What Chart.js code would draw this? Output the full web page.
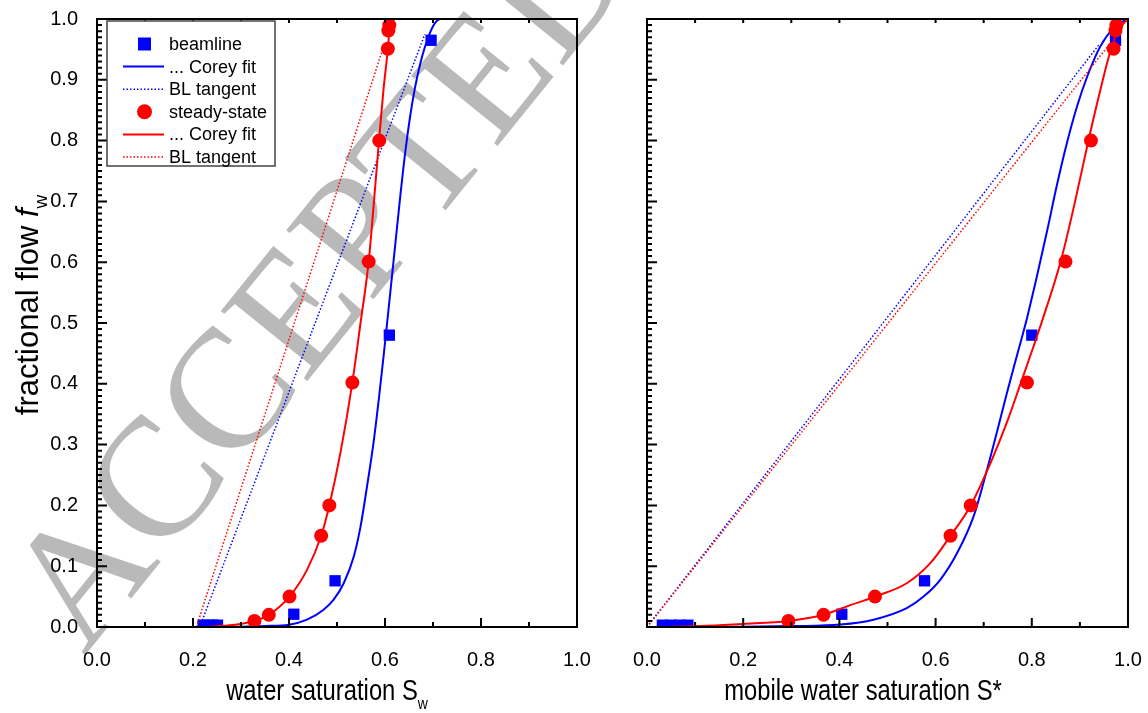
<!DOCTYPE html>
<html>
<head>
<meta charset="utf-8">
<script src="https://cdn.jsdelivr.net/npm/chart.js@4.4.1/dist/chart.umd.min.js"></script>
<style>
  html, body { margin: 0; padding: 0; background: #fff; }
  #wrap { position: relative; width: 1148px; height: 713px; overflow: hidden; }
  #wm {
    position: absolute; left: 0; top: 0;
    font-family: "Liberation Serif", serif; font-size: 170px; line-height: 1;
    color: #b9b9b9; white-space: nowrap;
    transform-origin: 0 0; transform: translate(-26px, 567px) rotate(-51deg);
  }
  canvas { position: absolute; top: 0; }
</style>
</head>
<body>
<div id="wrap">
  <div id="wm">ACCEPTED MANUSCRIPT</div>
  <canvas id="left" width="600" height="713" style="left:0"></canvas>
  <canvas id="right" width="548" height="713" style="left:600px"></canvas>
</div>
<script>
// ===== data: left panel, water saturation Sw =====
const beamSw = [0.221, 0.231, 0.241, 0.251, 0.410, 0.496, 0.609, 0.696];
const beamFw = [0.003, 0.003, 0.003, 0.003, 0.021, 0.076, 0.480, 0.965];
const steadySw = [0.328, 0.358, 0.401, 0.467, 0.484, 0.532, 0.566, 0.588, 0.606, 0.607, 0.609];
const steadyFw = [0.010, 0.020, 0.050, 0.150, 0.200, 0.402, 0.601, 0.800, 0.951, 0.981, 0.990];

// Corey fits
const beamFitSw = [0.22, 0.30, 0.35, 0.40, 0.4375, 0.472, 0.493, 0.514, 0.535, 0.549, 0.5625, 0.576, 0.587, 0.597, 0.604, 0.611, 0.6215, 0.632, 0.642, 0.652, 0.662, 0.672, 0.682, 0.691, 0.700, 0.708, 0.714];
const beamFitFw = [0.0, 0.0006, 0.0018, 0.0038, 0.012, 0.0285, 0.045, 0.072, 0.116, 0.165, 0.231, 0.3025, 0.374, 0.445, 0.497, 0.550, 0.630, 0.710, 0.780, 0.838, 0.885, 0.922, 0.951, 0.972, 0.988, 0.997, 1.0];
const steadyFitSw = [0.23, 0.264, 0.30, 0.328, 0.358, 0.401, 0.4375, 0.467, 0.484, 0.508, 0.532, 0.549, 0.566, 0.577, 0.5875, 0.597, 0.606, 0.610, 0.613];
const steadyFitFw = [0.0, 0.002, 0.005, 0.010, 0.020, 0.050, 0.094, 0.150, 0.200, 0.290, 0.402, 0.500, 0.601, 0.700, 0.800, 0.885, 0.951, 0.990, 1.0];

// Buckley-Leverett tangents
const beamTanSw = [0.214, 0.683];
const beamTanFw = [0.0, 0.975];
const steadyTanSw = [0.207, 0.597];
const steadyTanFw = [0.0, 0.955];

// ===== data: right panel, mobile water saturation S* =====
const beamS = [0.032, 0.050, 0.068, 0.085, 0.405, 0.577, 0.800, 0.974];
const steadyS = [0.294, 0.367, 0.474, 0.631, 0.673, 0.790, 0.870, 0.923, 0.970, 0.974, 0.976];

const beamFitS = [0.03, 0.20, 0.30, 0.402, 0.471, 0.540, 0.575, 0.610, 0.645, 0.679, 0.707, 0.728, 0.748, 0.769, 0.790, 0.811, 0.832, 0.852, 0.873, 0.894, 0.915, 0.9425, 0.970, 0.998];
const beamFitFwS = [0.0, 0.0004, 0.0015, 0.004, 0.012, 0.031, 0.050, 0.078, 0.122, 0.182, 0.259, 0.322, 0.384, 0.446, 0.508, 0.578, 0.652, 0.726, 0.796, 0.856, 0.905, 0.955, 0.985, 1.0];
const steadyFitS = [0.03, 0.125, 0.20, 0.294, 0.367, 0.416, 0.474, 0.540, 0.589, 0.631, 0.673, 0.717, 0.748, 0.777, 0.820, 0.860, 0.890, 0.918, 0.943, 0.965, 0.983, 1.0];
const steadyFitFwS = [0.0, 0.002, 0.005, 0.010, 0.020, 0.034, 0.050, 0.072, 0.105, 0.150, 0.200, 0.275, 0.336, 0.401, 0.500, 0.601, 0.700, 0.801, 0.885, 0.951, 0.985, 1.0];

const beamTanS = [0.0, 0.940];
const beamTanFwS = [0.0, 0.958];
const steadyTanS = [0.0, 0.962];
const steadyTanFwS = [0.0, 0.959];

// tick labels
const xTicks = [0, 0.2, 0.4, 0.6, 0.8, 1.0];
const yTicks = [0, 0.1, 0.2, 0.3, 0.4, 0.5, 0.6, 0.7, 0.8, 0.9, 1.0];
const legendLabels = ["beamline", "... Corey fit", "BL tangent", "steady-state", "... Corey fit", "BL tangent"];

const BLUE = "#0000ff";
const RED = "#ff0000";
const SANS = '"Liberation Sans", Arial, sans-serif';

function pts(xs, ys) {
  return xs.map((x, i) => ({ x: x, y: ys[i] }));
}

function buildDatasets(s) {
  return [
    { label: legendLabels[0], data: pts(s.bx, s.by), showLine: false, pointStyle: "rect",
      pointRadius: 8, pointBackgroundColor: BLUE, pointBorderWidth: 0, order: 3, clip: 0 },
    { label: legendLabels[1], data: pts(s.bfx, s.bfy), showLine: true, borderColor: BLUE,
      borderWidth: 2, pointRadius: 0, cubicInterpolationMode: "monotone", order: 4 },
    { label: legendLabels[2], data: pts(s.btx, s.bty), showLine: true, borderColor: BLUE,
      borderWidth: 1.5, borderDash: [1.5, 2], pointRadius: 0, order: 5 },
    { label: legendLabels[3], data: pts(s.sx, s.sy), showLine: false, pointStyle: "circle",
      pointRadius: 7, pointBackgroundColor: RED, pointBorderWidth: 0, order: 0, clip: 0 },
    { label: legendLabels[4], data: pts(s.sfx, s.sfy), showLine: true, borderColor: RED,
      borderWidth: 2, pointRadius: 0, cubicInterpolationMode: "monotone", order: 1 },
    { label: legendLabels[5], data: pts(s.stx, s.sty), showLine: true, borderColor: RED,
      borderWidth: 1.5, borderDash: [1.5, 2], pointRadius: 0, order: 2 },
  ];
}

// frame + inward ticks (major/minor) on every panel
const frameTicks = {
  id: "frameTicks",
  afterDatasetsDraw(chart) {
    const { ctx, chartArea: a } = chart;
    const x = chart.scales.x, y = chart.scales.y;
    ctx.save();
    ctx.strokeStyle = "#000";
    ctx.lineWidth = 2;
    ctx.beginPath();
    for (let i = 0; i <= 100; i++) {
      const py = y.getPixelForValue(i / 100);
      const len = i % 10 === 0 ? 10 : 5;
      ctx.moveTo(a.left, py);
      ctx.lineTo(a.left + len, py);
    }
    for (let i = 0; i <= 10; i++) {
      const px = x.getPixelForValue(i / 10);
      const len = i % 2 === 0 ? 9 : 5;
      ctx.moveTo(px, a.bottom);
      ctx.lineTo(px, a.bottom - len);
      ctx.moveTo(px, a.top);
      ctx.lineTo(px, a.top + 4);
    }
    ctx.stroke();
    ctx.strokeRect(a.left, a.top, a.right - a.left, a.bottom - a.top);
    ctx.restore();
  },
};

// text made of pieces (italic f, subscript w); sx squeezes the glyphs sideways
function drawPieces(ctx, pieces, size, cx, cy, rot, sx) {
  ctx.save();
  ctx.translate(cx, cy);
  ctx.rotate(rot || 0);
  ctx.scale(sx || 1, 1);
  ctx.fillStyle = "#000";
  ctx.textBaseline = "alphabetic";
  const fontOf = (p) => (p.italic ? "italic " : "") + Math.round(p.sub ? size * 0.6 : size) + "px " + SANS;
  let total = 0;
  pieces.forEach((p) => { ctx.font = fontOf(p); total += ctx.measureText(p.t).width; });
  let xx = -total / 2;
  pieces.forEach((p) => {
    ctx.font = fontOf(p);
    ctx.fillText(p.t, xx, p.sub ? size * 0.3 : 0);
    xx += ctx.measureText(p.t).width;
  });
  ctx.restore();
}

const axisTitles = {
  id: "axisTitles",
  afterDraw(chart, args, opts) {
    const ctx = chart.ctx;
    if (opts.x) drawPieces(ctx, opts.x, 29, opts.xPos[0], opts.xPos[1], 0, 0.82);
    if (opts.y) drawPieces(ctx, opts.y, 31, opts.yPos[0], opts.yPos[1], -Math.PI / 2, 1);
  },
};

// legend box inside the left panel
const boxLegend = {
  id: "boxLegend",
  afterDraw(chart, args, opts) {
    if (!opts.display) return;
    const ctx = chart.ctx;
    const bx = 107, by = 21, bw = 168, bh = 145;
    ctx.save();
    ctx.fillStyle = "#fff";
    ctx.fillRect(bx, by, bw, bh);
    ctx.strokeStyle = "#444";
    ctx.lineWidth = 1.5;
    ctx.strokeRect(bx, by, bw, bh);
    ctx.font = "18px " + SANS;
    ctx.textBaseline = "middle";
    chart.data.datasets.forEach((ds, i) => {
      const yy = by + 23 + i * 22.6;
      if (!ds.showLine) {
        ctx.fillStyle = ds.pointBackgroundColor;
        if (ds.pointStyle === "rect") ctx.fillRect(138, yy - 6.5, 13, 13);
        else { ctx.beginPath(); ctx.arc(144.5, yy, 7.5, 0, Math.PI * 2); ctx.fill(); }
      } else {
        ctx.strokeStyle = ds.borderColor;
        ctx.lineWidth = ds.borderWidth;
        ctx.setLineDash(ds.borderDash || []);
        ctx.beginPath();
        ctx.moveTo(123, yy);
        ctx.lineTo(164, yy);
        ctx.stroke();
        ctx.setLineDash([]);
      }
      ctx.fillStyle = "#000";
      ctx.fillText(ds.label, 169, yy + 1);
    });
    ctx.restore();
  },
};

function makeChart(id, sets, cfg) {
  return new Chart(document.getElementById(id), {
    type: "scatter",
    data: { datasets: buildDatasets(sets) },
    plugins: [frameTicks, axisTitles, boxLegend],
    options: {
      responsive: false,
      animation: false,
      devicePixelRatio: 1,
      layout: { padding: { top: 19, right: cfg.padRight, left: 0, bottom: 0 } },
      scales: {
        x: {
          type: "linear", min: 0, max: 1,
          grid: { display: false }, border: { display: false },
          afterBuildTicks: (s) => { s.ticks = xTicks.map((v) => ({ value: v })); },
          ticks: { padding: 13, color: "#000", font: { family: SANS, size: 20 },
            callback: (v) => Number(v).toFixed(1) },
          afterFit: (s) => { s.height = 86; s.paddingLeft = 0; s.paddingRight = 0; },
        },
        y: {
          type: "linear", min: 0, max: 1,
          grid: { display: false }, border: { display: false },
          afterBuildTicks: (s) => { s.ticks = yTicks.map((v) => ({ value: v })); },
          ticks: { display: cfg.yLabels, padding: 11, color: "#000", font: { family: SANS, size: 20 },
            callback: (v) => Number(v).toFixed(1) },
          afterFit: (s) => { s.width = cfg.yWidth; s.paddingTop = 0; s.paddingBottom = 0; },
        },
      },
      plugins: {
        legend: { display: false },
        tooltip: { enabled: false },
        axisTitles: cfg.titles,
        boxLegend: { display: cfg.legend },
      },
    },
  });
}

makeChart("left", {
  bx: beamSw, by: beamFw, bfx: beamFitSw, bfy: beamFitFw, btx: beamTanSw, bty: beamTanFw,
  sx: steadySw, sy: steadyFw, sfx: steadyFitSw, sfy: steadyFitFw, stx: steadyTanSw, sty: steadyTanFw,
}, {
  padRight: 23, yWidth: 97, yLabels: true, legend: true,
  titles: {
    x: [{ t: "water saturation S" }, { t: "w", sub: true }], xPos: [327, 700],
    y: [{ t: "fractional flow " }, { t: "f", italic: true }, { t: "w", sub: true }], yPos: [38, 305],
  },
});

makeChart("right", {
  bx: beamS, by: beamFw, bfx: beamFitS, bfy: beamFitFwS, btx: beamTanS, bty: beamTanFwS,
  sx: steadyS, sy: steadyFw, sfx: steadyFitS, sfy: steadyFitFwS, stx: steadyTanS, sty: steadyTanFwS,
}, {
  padRight: 20, yWidth: 47, yLabels: false, legend: false,
  titles: { x: [{ t: "mobile water saturation S*" }], xPos: [263, 700] },
});
</script>
</body>
</html>
